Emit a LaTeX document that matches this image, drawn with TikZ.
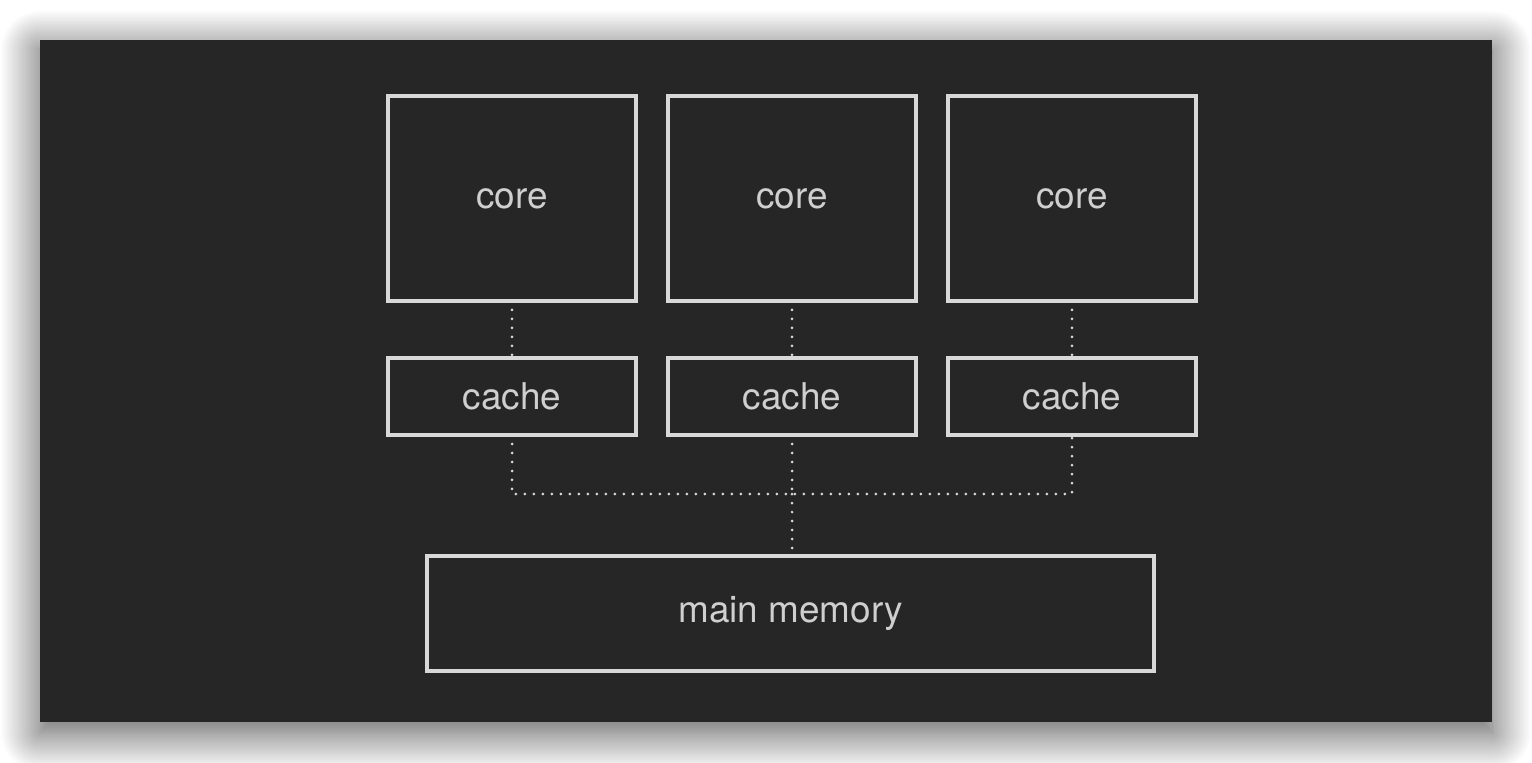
\documentclass[tikz,border=0pt]{standalone}
\usepackage{fontspec}
\setmainfont{TeX Gyre Heros}
\usetikzlibrary{positioning, shadows.blur}

\definecolor{panelbg}{HTML}{262626}
\definecolor{boxline}{HTML}{D8D8D8}
\definecolor{boxtext}{HTML}{CFCFCF}

\tikzset{
  unit/.style={draw=boxline, line width=0.065cm, inner sep=0pt, outer sep=0pt,
    text=boxtext, font=\fontsize{21}{25}\selectfont, minimum width=4.96cm},
  link/.style={draw=boxline, line width=0.06cm, line cap=round,
    dash pattern=on 0pt off 0.18cm}
}

\begin{document}
\begin{tikzpicture}[x=0.02cm, y=-0.02cm]
            \useasboundingbox (0, 0) rectangle (1532, 762);
            \fill[panelbg, blur shadow={shadow xshift=0cm, shadow yshift=-0.2cm,
              shadow blur radius=0.8cm, shadow blur steps=30, shadow opacity=70}]
              (40, 40) rectangle (1492, 722);

            \node[unit, minimum height=4.1cm] (core1) at (512, 198.5) {core};
            \node[unit, minimum height=4.1cm] (core2) at (792, 198.5) {core};
            \node[unit, minimum height=4.1cm] (core3) at (1072, 198.5) {core};

            \node[unit, minimum height=1.54cm] (cache1) at (512, 396.5) {cache};
            \node[unit, minimum height=1.54cm] (cache2) at (792, 396.5) {cache};
            \node[unit, minimum height=1.54cm] (cache3) at (1072, 396.5) {cache};

            \node[unit, minimum width=14.54cm, minimum height=2.3cm] (mem) at (790.5, 613.5) {main memory};

            \coordinate (bus) at (792, 494);

            \draw[link] (core1) -- (cache1);
            \draw[link] (core2) -- (cache2);
            \draw[link] (core3) -- (cache3);
            \draw[link] (cache1.south) |- (bus) -| (cache3.south);
            \draw[link] (cache2.south) -- (bus);
            \draw[link] (bus) -- (bus |- mem.north);
        \end{tikzpicture}
\end{document}
